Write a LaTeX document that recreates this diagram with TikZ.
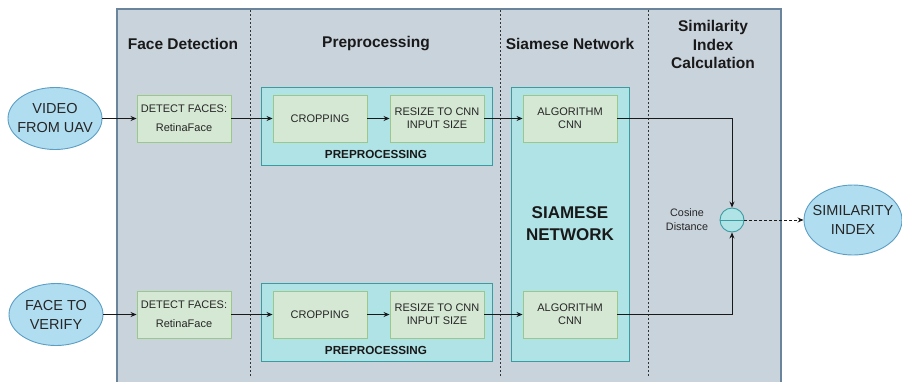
\documentclass[tikz,border=0pt]{standalone}
\usepackage{fontspec}
\setmainfont{Liberation Sans}
\usetikzlibrary{arrows.meta,shapes.geometric}
\definecolor{mainbg}{HTML}{C9D3DC}
\definecolor{mainbd}{HTML}{6A849C}
\definecolor{tealbg}{HTML}{B0E3E6}
\definecolor{tealbd}{HTML}{3A9CA3}
\definecolor{greenbg}{HTML}{D5E8D4}
\definecolor{greenbd}{HTML}{9CC78A}
\definecolor{ellbg}{HTML}{B1DDF0}
\definecolor{ellbd}{HTML}{5B9EC4}
\tikzset{
  mainbox/.style={draw=mainbd, fill=mainbg, line width=1.2pt, inner sep=0pt},
  divider/.style={draw=black!80, dash pattern=on 2pt off 2pt, line width=0.6pt},
  title/.style={font=\fontsize{15.5}{18.5}\selectfont\bfseries, align=center, text=black!90},
  tealbox/.style={draw=tealbd, fill=tealbg, line width=0.9pt, inner sep=0pt},
  greenbox/.style={draw=greenbd, fill=greenbg, line width=0.9pt, inner sep=0pt, minimum width=94pt, minimum height=47pt, align=center, text=black!85},
  ell/.style={ellipse, draw=ellbd, fill=ellbg, line width=0.9pt, inner sep=0pt},
  elltext/.style={align=center, font=\fontsize{14.5}{19}\selectfont, text=black!85},
  conn/.style={draw=black!90, line width=0.8pt, -{Stealth[length=6pt,width=5pt]}},
  small/.style={font=\fontsize{11}{13}\selectfont},
  smallwide/.style={font=\fontsize{11}{19}\selectfont},
  sublabel/.style={font=\fontsize{11.7}{13}\selectfont\bfseries, text=black!90},
}
\begin{document}
\begin{tikzpicture}[x=1pt,y=-1pt]
\useasboundingbox (0,0) rectangle (902,381);
\clip (0,0) rectangle (902,381);
% main container
\node[mainbox, minimum width=664pt, minimum height=391pt] (main) at (449,204.5) {};
% dividers
\coordinate (d1t) at (250,10); \coordinate (d1b) at (250,377);
\coordinate (d2t) at (500,10); \coordinate (d2b) at (500,377);
\coordinate (d3t) at (648,10); \coordinate (d3b) at (648,377);
\draw[divider] (d1t) -- (d1b);
\draw[divider] (d2t) -- (d2b);
\draw[divider] (d3t) -- (d3b);
% titles
\node[title] (t1) at (183,44) {Face Detection};
\node[title] (t2) at (376,44) {Preprocessing};
\node[title] (t3) at (570,44) {Siamese Network};
\node[title] (t4) at (713,44.5) {Similarity\\Index\\Calculation};
% containers
\node[tealbox, minimum width=231pt, minimum height=78pt] (prep1) at (377,126) {};
\node[tealbox, minimum width=231pt, minimum height=78pt] (prep2) at (377,322) {};
\node[tealbox, minimum width=118pt, minimum height=274pt] (siam) at (570,224) {};
\node[sublabel] (pl1) at (376,154) {PREPROCESSING};
\node[sublabel] (pl2) at (376,350) {PREPROCESSING};
\node[font=\fontsize{17}{22}\selectfont\bfseries, align=center, text=black!90] (sl) at (570,224) {SIAMESE\\NETWORK};
% inputs
\node[ell, minimum width=94pt, minimum height=62pt] (vid) at (55,118.5) {};
\node[elltext] (vidt) at (vid.center) {VIDEO\\FROM UAV};
\node[ell, minimum width=94pt, minimum height=62pt] (face) at (56,314.5) {};
\node[elltext] (facet) at (face.center) {FACE TO\\VERIFY};
% row 1
\node[greenbox, smallwide] (det1) at (184,118.5) {DETECT FACES:\\RetinaFace};
\node[greenbox, small] (crop1) at (320,118.5) {CROPPING};
\node[greenbox, small] (res1) at (437,118.5) {RESIZE TO CNN\\INPUT SIZE};
\node[greenbox, small] (cnn1) at (570,118.5) {ALGORITHM\\CNN};
% row 2
\node[greenbox, smallwide] (det2) at (184,314.5) {DETECT FACES:\\RetinaFace};
\node[greenbox, small] (crop2) at (320,314.5) {CROPPING};
\node[greenbox, small] (res2) at (437,314.5) {RESIZE TO CNN\\INPUT SIZE};
\node[greenbox, small] (cnn2) at (570,314.5) {ALGORITHM\\CNN};
% cosine
\node[circle, draw=tealbd, fill=tealbg, line width=0.9pt, minimum size=24pt, inner sep=0pt] (circ) at (732,220) {};
\draw[draw=tealbd, line width=0.9pt] (circ.west) -- (circ.east);
\node[font=\fontsize{10.8}{14}\selectfont, align=center, text=black!85] (cos) at (687,220) {Cosine\\Distance};
\node[ell, minimum width=98pt, minimum height=70pt] (sim) at (853,220) {};
\node[elltext] (simt) at (sim.center) {SIMILARITY\\INDEX};
% connectors
\draw[conn] (vid.east) -- (det1.west);
\draw[conn] (det1.east) -- (crop1.west);
\draw[conn] (crop1.east) -- (res1.west);
\draw[conn] (res1.east) -- (cnn1.west);
\draw[conn] (face.east) -- (det2.west);
\draw[conn] (det2.east) -- (crop2.west);
\draw[conn] (crop2.east) -- (res2.west);
\draw[conn] (res2.east) -- (cnn2.west);
\draw[conn] (cnn1.east) -| (circ.north);
\draw[conn] (cnn2.east) -| (circ.south);
\draw[conn, dash pattern=on 2.5pt off 2.5pt] (circ.east) -- (sim.west);
\end{tikzpicture}
\end{document}
